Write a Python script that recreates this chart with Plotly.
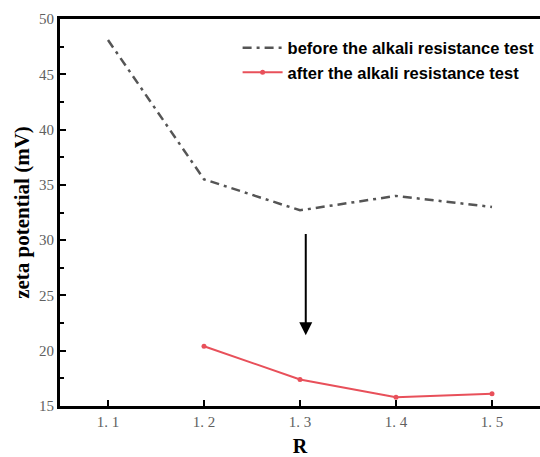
import plotly.graph_objects as go

R = [1.1, 1.2, 1.3, 1.4, 1.5]
before_vals = [48.1, 35.5, 32.7, 34.0, 33.0]
R_after = [1.2, 1.3, 1.4, 1.5]
after_vals = [20.4, 17.4, 15.8, 16.1]
x_ticks = [1.1, 1.2, 1.3, 1.4, 1.5]
x_ticklabels = ["1. 1", "1. 2", "1. 3", "1. 4", "1. 5"]
y_ticks = [15, 20, 25, 30, 35, 40, 45, 50]

fig = go.Figure()
fig.add_trace(go.Scatter(
    x=R, y=before_vals, mode="lines",
    name="<b>before the alkali resistance test</b>",
    line=dict(color="#555555", width=2.5, dash="9px,5px,3px,5px"),
))
fig.add_trace(go.Scatter(
    x=R_after, y=after_vals, mode="lines+markers",
    name="<b>after the alkali resistance test</b>",
    line=dict(color="#e8505a", width=2),
    marker=dict(color="#e8505a", size=5),
))

fig.add_annotation(
    x=1.306, y=21.4, ax=1.306, ay=30.7,
    xref="x", yref="y", axref="x", ayref="y",
    text="", showarrow=True, arrowhead=2, arrowsize=1.3,
    arrowwidth=2, arrowcolor="black",
)

tickfont = dict(family="Liberation Serif", size=15, color="#606060")

fig.update_layout(
    width=540, height=457,
    margin=dict(l=60, r=0, t=19, b=51),
    plot_bgcolor="white", paper_bgcolor="white",
    xaxis=dict(
        range=[1.05, 1.55], tickvals=x_ticks, ticktext=x_ticklabels,
        showline=True, linecolor="black", linewidth=3, mirror=True,
        ticks="inside", ticklen=6, tickwidth=2, tickcolor="black",
        showgrid=False, zeroline=False, tickfont=tickfont,
        title=dict(text="<b>R</b>", font=dict(family="Liberation Serif", size=20, color="black"), standoff=14),
    ),
    yaxis=dict(
        range=[15, 50], tickvals=y_ticks,
        showline=True, linecolor="black", linewidth=3, mirror=False,
        ticks="inside", ticklen=6, tickwidth=2, tickcolor="black",
        showgrid=False, zeroline=False, tickfont=tickfont,
        minor=dict(ticks="inside", ticklen=4, tickwidth=1.5, tickcolor="black", dtick=2.5),
        title=dict(text="<b>zeta potential (mV)</b>", font=dict(family="Liberation Serif", size=21, color="black"), standoff=4),
    ),
    showlegend=True,
    legend=dict(
        x=0.37, y=0.97, xanchor="left", yanchor="top",
        bgcolor="rgba(0,0,0,0)",
        font=dict(family="Liberation Sans", size=16.5, color="black"),
        itemwidth=40, tracegroupgap=0,
    ),
)

fig.write_html("out.html", config={"displayModeBar": False},
               post_script="document.body.style.margin='0';")
